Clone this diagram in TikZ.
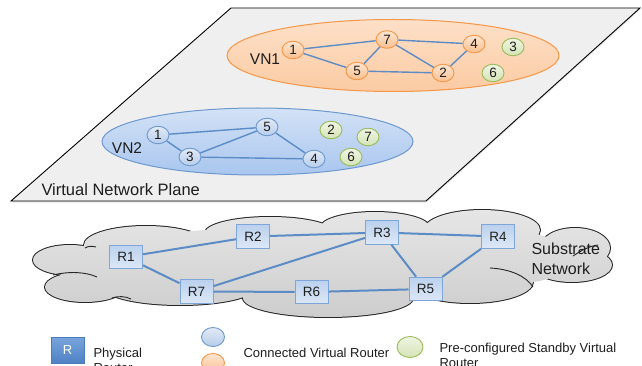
\documentclass[tikz,border=0pt]{standalone}
\usepackage{fontspec}
\setmainfont{Liberation Sans}
\usetikzlibrary{shapes.geometric,shadows}
\definecolor{txt}{HTML}{1E1E1E}
\definecolor{planefill}{HTML}{EFEFEF}
\definecolor{orbd}{HTML}{F79646}
\definecolor{orlt}{HTML}{FDE6D2}
\definecolor{ordk}{HTML}{FAC08F}
\definecolor{vnolt}{HTML}{FDE0C8}
\definecolor{vnodk}{HTML}{FBCBA3}
\definecolor{blbd}{HTML}{6D98CF}
\definecolor{bllt}{HTML}{E2EAF6}
\definecolor{bldk}{HTML}{B7CDEB}
\definecolor{vnblt}{HTML}{D3E2F6}
\definecolor{vnbdk}{HTML}{A9C6EF}
\definecolor{grbd}{HTML}{9BBB59}
\definecolor{grlt}{HTML}{F0F5E4}
\definecolor{grdk}{HTML}{D4E3B6}
\definecolor{edgeblue}{HTML}{5C8CC6}
\definecolor{rtbd}{HTML}{7FA6D8}
\definecolor{rtlt}{HTML}{DDE8F6}
\definecolor{rtdk}{HTML}{BBD1EE}
\definecolor{cloudlt}{HTML}{E6E6E6}
\definecolor{clouddk}{HTML}{CDCDCD}
\definecolor{legbd}{HTML}{4A7CBA}
\definecolor{leglt}{HTML}{79A5DD}
\definecolor{legdk}{HTML}{4F81C4}
\begin{document}
\begin{tikzpicture}[x=1pt,y=-1pt,
  every node/.style={text=txt},
  vrouter/.style={ellipse, minimum width=22pt, minimum height=17.5pt, inner sep=0pt,
    line width=0.9pt, font=\fontsize{13.5}{14}\selectfont},
  orangev/.style={vrouter, draw=orbd, top color=orlt, bottom color=ordk},
  bluev/.style={vrouter, draw=blbd, top color=bllt, bottom color=bldk},
  greenv/.style={vrouter, draw=grbd, top color=grlt, bottom color=grdk},
  vedge/.style={draw=edgeblue, line width=1.4pt},
  redge/.style={draw=edgeblue, line width=2pt},
  prouter/.style={rectangle, minimum width=33pt, minimum height=23.5pt, inner sep=0pt,
    draw=rtbd, line width=1pt, top color=rtdk, bottom color=rtlt,
    font=\fontsize{13.5}{14}\selectfont},
  vnet/.style={ellipse, inner sep=0pt, line width=1pt},
  lbl/.style={font=\fontsize{15.5}{16}\selectfont},
  legtext/.style={anchor=base west, font=\fontsize{13}{14}\selectfont}
]
\useasboundingbox (0,0) rectangle (642,366);
\clip (0,0) rectangle (642,366);

% plane
\draw[fill=planefill, line width=0.9pt,
  drop shadow={shadow xshift=0.5pt, shadow yshift=-1.5pt, opacity=0.2}]
  (231,8) -- (640,8) -- (426,201) -- (11,201) -- cycle;
\node[anchor=base west, font=\fontsize{16.5}{17}\selectfont] (plane) at (38,196) {Virtual Network Plane};

% virtual networks
\node[vnet, draw=orbd, top color=vnolt, bottom color=vnodk,
  minimum width=332pt, minimum height=72pt] (vn1e) at (393,55.5) {};
\node[vnet, draw=blbd, top color=vnblt, bottom color=vnbdk,
  minimum width=311pt, minimum height=67pt] (vn2e) at (257.5,141.5) {};
\node[lbl] (vn1l) at (265,59) {VN1};
\node[lbl] (vn2l) at (127,148) {VN2};

% VN1 nodes
\node[orangev] (a1) at (293,50) {1};
\node[orangev] (a7) at (387,39.5) {7};
\node[orangev] (a4) at (474,44) {4};
\node[orangev] (a5) at (357,71) {5};
\node[orangev] (a2) at (443,73) {2};
\node[greenv] (a3) at (513,47) {3};
\node[greenv] (a6) at (493,73) {6};
\draw[vedge] (a1) -- (a7);
\draw[vedge] (a1) -- (a5);
\draw[vedge] (a5) -- (a7);
\draw[vedge] (a7) -- (a4);
\draw[vedge] (a7) -- (a2);
\draw[vedge] (a5) -- (a2);
\draw[vedge] (a2) -- (a4);

% VN2 nodes
\node[bluev] (b1) at (158,135) {1};
\node[bluev] (b5) at (267,127) {5};
\node[bluev] (b3) at (190,157) {3};
\node[bluev] (b4) at (314,159) {4};
\node[greenv] (b2) at (331,130) {2};
\node[greenv] (b7) at (368,137) {7};
\node[greenv] (b6) at (351,157) {6};
\draw[vedge] (b1) -- (b5);
\draw[vedge] (b1) -- (b3);
\draw[vedge] (b3) -- (b5);
\draw[vedge] (b5) -- (b4);
\draw[vedge] (b3) -- (b4);

% substrate cloud
\draw[line width=2pt, black!85]
  (70,260) ellipse [x radius=37, y radius=15]
  (146,245) ellipse [x radius=62, y radius=19]
  (270,233) ellipse [x radius=65, y radius=16]
  (375,228) ellipse [x radius=55, y radius=16]
  (482,230) ellipse [x radius=58, y radius=20]
  (575,248) ellipse [x radius=35, y radius=20]
  (572,265) ellipse [x radius=40, y radius=17]
  (470,282) ellipse [x radius=63, y radius=21]
  (328,298) ellipse [x radius=85, y radius=19]
  (180,288) ellipse [x radius=75, y radius=17]
  (85,287) ellipse [x radius=40, y radius=15];
\shade[top color=cloudlt, bottom color=clouddk]
  (70,260) ellipse [x radius=37, y radius=15]
  (146,245) ellipse [x radius=62, y radius=19]
  (270,233) ellipse [x radius=65, y radius=16]
  (375,228) ellipse [x radius=55, y radius=16]
  (482,230) ellipse [x radius=58, y radius=20]
  (575,248) ellipse [x radius=35, y radius=20]
  (572,265) ellipse [x radius=40, y radius=17]
  (470,282) ellipse [x radius=63, y radius=21]
  (328,298) ellipse [x radius=85, y radius=19]
  (180,288) ellipse [x radius=75, y radius=17]
  (85,287) ellipse [x radius=40, y radius=15]
  (320,262) ellipse [x radius=250, y radius=36]
  (520,258) ellipse [x radius=50, y radius=25];
\draw[line width=0.9pt, black!85] (53,275) .. controls (70,271) and (86,272) .. (97,277);
\draw[line width=0.9pt, black!85] (490,268) .. controls (510,269) and (526,276) .. (533,287);
\draw[line width=0.9pt, black!85] (573,256) .. controls (582,250) and (590,246) .. (598,245);
\draw[line width=0.9pt, black!85] (112,298) .. controls (118,296) and (125,296) .. (131,299);
\draw[line width=0.9pt, black!85] (85,248) .. controls (88,246) and (92,246) .. (96,247);

% physical routers
\node[prouter] (r1) at (126,257) {R1};
\node[prouter] (r2) at (253,236.5) {R2};
\node[prouter] (r3) at (382,232.5) {R3};
\node[prouter] (r4) at (498,236.5) {R4};
\node[prouter] (r7) at (196.5,291.5) {R7};
\node[prouter] (r6) at (311.5,292) {R6};
\node[prouter] (r5) at (425.5,289) {R5};
\draw[redge] (r1) -- (r2);
\draw[redge] (r2) -- (r3);
\draw[redge] (r3) -- (r4);
\draw[redge] (r1) -- (r7);
\draw[redge] (r7) -- (r3);
\draw[redge] (r7) -- (r6);
\draw[redge] (r6) -- (r5);
\draw[redge] (r3) -- (r5);
\draw[redge] (r5) -- (r4);
\node[anchor=base west, font=\fontsize{16}{17}\selectfont] (sub1) at (528,254) {Substrate};
\node[anchor=base west, font=\fontsize{16}{17}\selectfont] (sub2) at (528,274) {Network};

% legend
\node[rectangle, minimum width=33pt, minimum height=26pt, inner sep=0pt, draw=legbd,
  line width=0.8pt, top color=leglt, bottom color=legdk, text=white,
  font=\fontsize{13}{14}\selectfont] (legr) at (67.5,350) {R};
\node[legtext] (lphys) at (90,357) {Physical};
\node[legtext] (lrout) at (90,372) {Router};
\node[bluev, minimum width=23pt, minimum height=19pt] (legb) at (213,337) {};
\node[orangev, minimum width=23pt, minimum height=19pt] (lego) at (213,363) {};
\node[legtext] (lconn) at (240,357) {Connected Virtual Router};
\node[greenv, minimum width=26pt, minimum height=21pt] (legg) at (410,347) {};
\node[legtext] (lpre1) at (436,352) {Pre-configured Standby Virtual};
\node[legtext] (lpre2) at (436,367) {Router};
\end{tikzpicture}
\end{document}
